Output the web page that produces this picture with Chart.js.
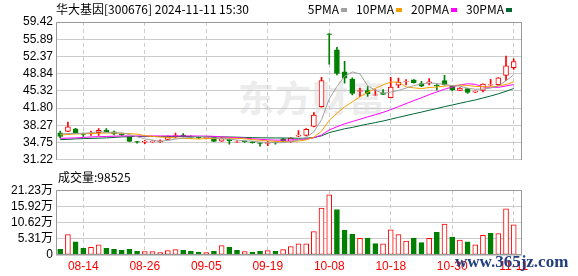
<!DOCTYPE html>
<html>
<head>
<meta charset="utf-8">
<script src="https://cdn.jsdelivr.net/npm/chart.js@4.4.1/dist/chart.umd.min.js"></script>
<style>
  html, body { margin: 0; padding: 0; background: #fff; }
  #wrap { position: relative; width: 578px; height: 276px; overflow: hidden; }
  #price-box { position: absolute; left: 0; top: 0; width: 578px; height: 170px; }
  #vol-box { position: absolute; left: 0; top: 180px; width: 578px; height: 96px; }
  .txt { position: absolute; white-space: pre; font: 12px 'Noto Sans CJK SC', sans-serif; line-height: 14px; color: #000; }
  #legend { right: 66px; top: 2px; }
  #legend i { display: inline-block; width: 6px; height: 4px; margin: 0 9px 2px 2px; vertical-align: middle; }
  #legend i:last-child { margin-right: 0; }
  #watermark { position: absolute; left: 238px; top: 70px; font: bold 36px 'Noto Sans CJK SC', sans-serif; color: #ececec; letter-spacing: 1px; }
  #site { position: absolute; left: 455px; top: 252px; font: bold 17px 'Liberation Serif', serif; color: #213f7e; }
</style>
</head>
<body>
<div id="wrap">
  <div id="watermark">东方财富</div>
  <div id="price-box"><canvas id="price" width="578" height="170"></canvas></div>
  <div id="vol-box"><canvas id="vol" width="578" height="96"></canvas></div>
  <div class="txt" id="title" style="left:56px; top:2px;"></div>
  <div class="txt" id="legend"></div>
  <div class="txt" id="vol-title" style="left:58px; top:170px;"></div>
  <div id="site">www.365jz.com</div>
</div>
<script>
const stockName = '华大基因';
const stockCode = '300676';
const stamp = '2024-11-11 15:30';

const dates = ['08-09','08-12','08-13','08-14','08-15','08-16','08-19','08-20','08-21','08-22',
  '08-23','08-26','08-27','08-28','08-29','08-30','09-02','09-03','09-04','09-05',
  '09-06','09-09','09-10','09-11','09-12','09-13','09-18','09-19','09-20','09-23',
  '09-24','09-25','09-26','09-27','09-30','10-08','10-09','10-10','10-11','10-14',
  '10-15','10-16','10-17','10-18','10-21','10-22','10-23','10-24','10-25','10-28',
  '10-29','10-30','10-31','11-01','11-04','11-05','11-06','11-07','11-08','11-11'];
const tickDates = ['08-14','08-26','09-05','09-19','10-08','10-18','10-30','11-11'];

const open = [36.75,37.05,37.55,36.55,36.5,36.75,37.3,36.95,36.45,35.8,
  34.95,34.85,34.9,34.9,35.4,35.95,36.3,36.05,35.8,35.6,
  35.8,35.05,35.4,34.85,35.05,34.9,34.7,34.55,34.85,35.5,
  34.95,36.05,36.2,38.05,42.1,57.0,53.7,49.2,47.75,45.2,
  45.4,44.45,44.9,43.95,46.5,47.15,47.6,46.8,46.9,46.5,
  47.45,46.3,45.4,45.8,45.05,45.42,46.5,46.6,48.5,50.05];
const high = [37.1,38.95,37.65,36.7,37.1,37.6,37.6,37.1,36.55,35.9,
  35.0,35.2,35.15,35.3,36.1,36.7,36.6,36.15,35.9,35.95,
  35.85,35.8,35.5,35.1,35.1,34.95,34.75,35.0,34.9,35.6,
  35.7,37.2,37.6,40.9,48.1,57.05,54.25,51.35,48.0,45.9,
  46.2,45.6,45.6,48.1,47.95,47.65,47.65,47.3,47.85,46.6,
  48.5,46.4,46.0,45.85,45.35,46.75,47.7,48.05,52.45,51.9];
const low = [35.7,37.0,36.6,36.0,36.2,36.2,36.9,36.3,36.2,34.95,
  34.6,34.5,34.8,34.8,35.3,35.7,35.9,35.6,35.55,35.5,
  34.95,35.0,34.4,34.8,34.8,34.6,34.0,34.1,34.4,34.95,
  34.8,35.95,36.1,37.95,42.0,50.8,48.6,46.9,44.5,44.15,
  44.2,44.4,44.55,43.9,46.0,46.55,46.9,46.2,46.55,45.5,
  46.5,45.3,45.35,44.8,44.95,45.1,46.4,46.5,47.4,49.7];
const close = [36.0,37.95,36.75,36.4,36.7,37.25,36.95,36.5,36.3,35.0,
  34.85,35.0,35.05,35.12,35.95,36.2,36.1,35.8,35.7,35.8,
  35.0,35.55,35.1,34.92,34.95,34.7,34.55,34.75,34.65,35.0,
  35.65,36.3,37.45,40.35,47.45,56.9,48.9,47.95,44.78,45.4,
  44.73,44.5,44.6,46.1,47.1,47.25,47.0,46.3,47.2,46.35,
  46.55,45.55,45.9,45.0,45.3,46.7,46.6,48.0,50.45,51.3];
const prevClose = 36.3; // close of the day before 08-09

const volume = [18600,67200,43400,21700,24800,33000,21700,18600,15500,18600,
  12400,11400,11400,8300,14500,17600,15500,12400,9300,8300,
  12400,31000,24800,15500,11400,9300,12400,14500,12400,17600,
  27900,36200,36200,76500,154000,197000,149000,80600,68200,54800,
  55800,37200,36200,82700,67200,45500,55800,40300,54800,74400,
  101000,58900,48600,43400,33100,64100,71300,70300,151000,98525];

const ma5 = [36.5,36.6,36.6,36.65,36.76,37.01,36.81,36.76,36.74,36.4,
  35.92,35.53,35.24,35.0,35.19,35.46,35.68,35.83,35.95,35.92,
  35.68,35.57,35.43,35.27,35.1,35.04,34.84,34.77,34.72,34.73,
  34.92,35.27,35.81,36.95,39.44,43.69,46.21,48.31,49.2,48.79,
  46.35,45.47,44.8,45.07,45.41,45.91,46.41,46.75,46.97,46.82,
  46.68,46.39,46.31,45.87,45.66,45.69,45.9,46.32,47.41,48.61];
const ma10 = [36.3,36.4,36.5,36.55,36.6,36.65,36.7,36.7,36.65,36.58,
  36.47,36.17,36.0,35.87,35.8,35.69,35.61,35.54,35.48,35.56,
  35.57,35.63,35.63,35.61,35.51,35.36,35.21,35.1,35.0,34.92,
  34.98,35.06,35.29,35.84,37.09,39.31,40.74,42.06,43.07,44.11,
  45.02,45.84,46.56,47.13,47.1,46.13,45.94,45.78,46.02,46.11,
  46.3,46.4,46.53,46.42,46.24,46.19,46.15,46.32,46.64,47.14];
const ma20 = [35.6,35.65,35.7,35.8,35.9,35.95,36.0,36.05,36.1,36.1,
  36.1,36.1,36.1,36.1,36.1,36.1,36.1,36.1,36.08,36.07,
  36.02,35.9,35.82,35.74,35.65,35.53,35.41,35.32,35.24,35.24,
  35.28,35.34,35.46,35.72,36.3,37.33,37.97,38.58,39.04,39.52,
  40.0,40.45,40.92,41.48,42.09,42.72,43.34,43.92,44.55,45.11,
  45.66,46.12,46.54,46.78,46.67,46.16,46.04,46.05,46.33,46.62];
const ma30 = [35.35,35.4,35.5,35.55,35.6,35.65,35.7,35.8,35.9,35.95,
  36.0,36.0,36.0,36.0,36.0,36.0,36.0,35.98,35.97,35.95,
  35.93,35.9,35.88,35.85,35.8,35.75,35.72,35.7,35.69,35.68,
  35.67,35.62,35.64,35.77,36.13,36.79,37.18,37.57,37.85,38.2,
  38.53,38.84,39.16,39.53,39.9,40.27,40.63,40.98,41.36,41.71,
  42.1,42.43,42.79,43.13,43.47,43.87,44.28,44.72,45.24,45.79];

const maNames = ['5PMA', '10PMA', '20PMA', '30PMA'];
const priceTicks = [31.22, 34.75, 38.27, 41.80, 45.32, 48.84, 52.37, 55.89, 59.42];
const volTicks = [0, 53075, 106150, 159225, 212300];
const volTickLabels = ['0', '5.31万', '10.62万', '15.92万', '21.23万'];

const RED = '#ff0000', GREEN = '#008000';
const maColors = ['#a0a0a0', '#f5a000', '#ff00ff', '#006633'];
const font = { family: "'Liberation Sans', 'Noto Sans CJK SC', sans-serif", size: 12 };
const tickIdx = tickDates.map(d => dates.indexOf(d));
const idx = dates.map((d, i) => i);
const up = i => close[i] >= open[i];
const volUp = i => close[i] >= (i === 0 ? prevClose : close[i - 1]);

document.getElementById('title').textContent = `${stockName}[${stockCode}] ${stamp}`;
document.getElementById('vol-title').textContent = `成交量:${volume[volume.length - 1]}`;
document.getElementById('legend').innerHTML =
  maNames.map((n, k) => `${n}<i style="background:${maColors[k]}"></i>`).join('');

// border round the plot area
const frame = {
  id: 'frame',
  afterDraw(chart, args, opts) {
    const { ctx, chartArea: a } = chart;
    const l = Math.round(a.left) + 0.5, r = Math.round(a.right) - 0.5;
    const t = Math.round(a.top) + 0.5, b = Math.round(a.bottom) - 0.5;
    ctx.save();
    ctx.strokeStyle = '#999999';
    ctx.lineWidth = 1;
    ctx.beginPath();
    ctx.moveTo(l, opts.bottom ? b : Math.round(a.bottom));
    ctx.lineTo(l, t);
    ctx.lineTo(r, t);
    ctx.lineTo(r, opts.bottom ? b : Math.round(a.bottom));
    if (opts.bottom) ctx.lineTo(l, b);
    ctx.stroke();
    ctx.restore();
  }
};

const xAxis = labels => ({
  type: 'linear',
  min: -0.55,
  max: 60.08,
  offset: false,
  afterBuildTicks: s => { s.ticks = tickIdx.map(v => ({ value: v })); },
  afterFit: s => { s.height = labels ? 21 : 0; },
  grid: { color: '#cccccc', drawTicks: false, offset: false },
  border: { display: false, dash: [4, 3] },
  ticks: {
    display: labels, color: RED, padding: 4, font, maxRotation: 0, autoSkip: false,
    callback: (v, i) => tickDates[i]
  }
});

const yTicks = cb => ({ color: '#000000', padding: 3, font, autoSkip: false, callback: cb });

const common = {
  responsive: false,
  animation: false,
  events: [],
  plugins: { legend: { display: false }, tooltip: { enabled: false } }
};

new Chart(document.getElementById('price'), {
  type: 'bar',
  data: {
    datasets: [
      ...[ma5, ma10, ma20, ma30].map((m, k) => ({
        type: 'line',
        data: idx.map(i => ({ x: i, y: m[i] })),
        borderColor: maColors[k],
        borderWidth: 1,
        pointRadius: 0,
        tension: 0,
        order: 0
      })),
      {
        data: idx.map(i => ({ x: i, y: [open[i], close[i]] })),
        backgroundColor: c => up(c.dataIndex) ? '#ffffff' : GREEN,
        borderColor: c => up(c.dataIndex) ? RED : GREEN,
        borderWidth: 1,
        borderSkipped: false,
        barThickness: 5,
        grouped: false,
        order: 1
      },
      {
        data: idx.map(i => ({ x: i, y: [low[i], high[i]] })),
        backgroundColor: c => up(c.dataIndex) ? RED : GREEN,
        borderWidth: 0,
        barThickness: 1,
        grouped: false,
        order: 2
      }
    ]
  },
  options: {
    ...common,
    layout: { padding: { top: 22, right: 56, bottom: 5, left: 0 } },
    plugins: { ...common.plugins, frame: { bottom: false } },
    scales: {
      x: xAxis(false),
      y: {
        min: priceTicks[0],
        max: priceTicks[priceTicks.length - 1],
        afterBuildTicks: s => { s.ticks = priceTicks.map(v => ({ value: v })); },
        afterFit: s => { s.width = 56; },
        grid: { color: '#cccccc', drawTicks: false },
        border: { display: false },
        ticks: yTicks(v => v.toFixed(2))
      }
    }
  },
  plugins: [frame]
});

new Chart(document.getElementById('vol'), {
  type: 'bar',
  data: {
    datasets: [{
      data: idx.map(i => ({ x: i, y: volume[i] })),
      backgroundColor: c => volUp(c.dataIndex) ? '#ffffff' : GREEN,
      borderColor: c => volUp(c.dataIndex) ? RED : GREEN,
      borderWidth: 1,
      borderSkipped: false,
      barThickness: 5
    }]
  },
  options: {
    ...common,
    layout: { padding: { top: 6, right: 56, bottom: 0, left: 0 } },
    plugins: { ...common.plugins, frame: { bottom: true } },
    scales: {
      x: xAxis(true),
      y: {
        min: 0,
        max: volTicks[volTicks.length - 1],
        afterBuildTicks: s => { s.ticks = volTicks.map(v => ({ value: v })); },
        afterFit: s => { s.width = 56; },
        grid: { color: '#cccccc', drawTicks: false },
        border: { display: false },
        ticks: yTicks((v, i) => volTickLabels[i])
      }
    }
  },
  plugins: [frame]
});
</script>
</body>
</html>
